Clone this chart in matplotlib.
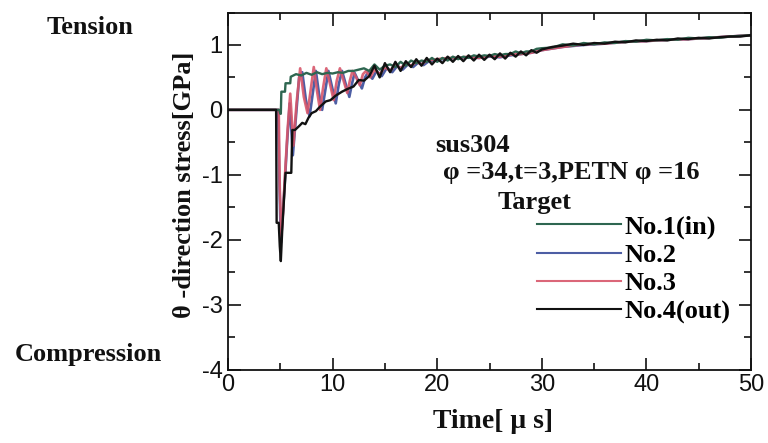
import matplotlib
matplotlib.use("Agg")
import matplotlib.pyplot as plt
from matplotlib import font_manager
from matplotlib.ticker import MultipleLocator

# ---------------- data ----------------
t1 = [0, 4.9, 5.0, 5.05, 5.1, 5.45, 5.5, 5.95, 6.0, 6.5, 7.0, 7.5, 8.0, 8.5, 9.0, 9.5, 10.0,
      10.5, 11.0, 11.5, 12.0, 12.5, 13.0, 13.5, 14.0, 14.5, 15.0, 15.5, 16.0, 16.5, 17.0,
      17.5, 18.0, 18.5, 19.0, 19.5, 20.0, 20.5, 21.0, 21.5, 22.0, 22.5, 23.0, 23.5, 24.0,
      24.5, 25.0, 25.5, 26.0, 26.5, 27.0, 27.5, 28.0, 28.5, 29.0, 29.5, 30.0, 31, 32, 33,
      34, 35, 36, 37, 38, 39, 40, 41, 42, 43, 44, 45, 46, 47, 48, 49, 50]
v1 = [0, 0, -0.06, -0.06, 0.28, 0.28, 0.41, 0.41, 0.51, 0.55, 0.53, 0.57, 0.54, 0.58, 0.55,
      0.57, 0.56, 0.58, 0.57, 0.6, 0.6, 0.62, 0.64, 0.6, 0.7, 0.62, 0.68, 0.7, 0.66, 0.74,
      0.68, 0.76, 0.72, 0.76, 0.74, 0.8, 0.74, 0.8, 0.76, 0.82, 0.78, 0.82, 0.8, 0.84, 0.82,
      0.84, 0.83, 0.86, 0.84, 0.86, 0.86, 0.9, 0.87, 0.9, 0.9, 0.94, 0.95, 0.96, 1.01, 0.99,
      1.03, 1.01, 1.04, 1.03, 1.06, 1.05, 1.08, 1.07, 1.09, 1.08, 1.11, 1.1, 1.12, 1.11,
      1.13, 1.14, 1.15]

t2 = [0, 4.8, 4.9, 5.05, 5.2, 5.4, 5.65, 5.9, 6.2, 6.5, 6.8, 7.1, 7.45, 7.8, 8.1, 8.4, 8.7,
      9.0, 9.3, 9.6, 9.95, 10.3, 10.6, 10.9, 11.25, 11.6, 11.85, 12.1, 12.45, 12.8, 13.1,
      13.4, 13.8, 14.2, 14.7, 15.2, 15.7, 16.2, 16.7, 17.2, 17.7, 18.2, 18.7, 19.2, 20, 21,
      22, 23, 24, 25, 26, 27, 28, 29, 30, 32, 34, 36, 38, 40, 42, 44, 46, 48, 50]
v2 = [0, 0, -1.0, -2.05, -1.7, -1.2, -0.5, 0.1, -0.7, -0.1, 0.5, 0.58, 0.15, -0.1, 0.25, 0.6,
      0.25, 0.0, 0.3, 0.6, 0.35, 0.1, 0.4, 0.6, 0.4, 0.2, 0.4, 0.57, 0.45, 0.33, 0.5, 0.58,
      0.48, 0.6, 0.52, 0.65, 0.58, 0.68, 0.62, 0.7, 0.66, 0.73, 0.69, 0.75, 0.77, 0.79, 0.8,
      0.81, 0.8, 0.82, 0.81, 0.84, 0.86, 0.88, 0.92, 0.97, 1.0, 1.02, 1.05, 1.06, 1.08, 1.09,
      1.11, 1.13, 1.15]

t3 = [0, 4.85, 4.95, 5.1, 5.25, 5.45, 5.7, 5.95, 6.25, 6.55, 6.9, 7.25, 7.6, 7.9, 8.2, 8.5,
      8.8, 9.1, 9.4, 9.75, 10.1, 10.4, 10.7, 11.05, 11.4, 11.65, 11.9, 12.25, 12.6, 12.9,
      13.2, 13.6, 14.0, 14.5, 15.0, 15.5, 16.0, 16.5, 17.0, 17.5, 18.0, 18.5, 19.0, 20, 21,
      22, 23, 24, 25, 26, 27, 28, 29, 30, 32, 34, 36, 38, 40, 42, 44, 46, 48, 50]
v3 = [0, 0, -1.2, -1.95, -1.6, -1.0, -0.3, 0.25, -0.55, 0.1, 0.64, 0.2, -0.05, 0.3, 0.66,
      0.3, 0.0, 0.35, 0.64, 0.4, 0.15, 0.45, 0.64, 0.45, 0.26, 0.45, 0.6, 0.5, 0.38, 0.55,
      0.6, 0.5, 0.62, 0.55, 0.66, 0.6, 0.7, 0.64, 0.72, 0.68, 0.74, 0.7, 0.76, 0.78, 0.8,
      0.8, 0.82, 0.8, 0.83, 0.82, 0.85, 0.86, 0.88, 0.92, 0.97, 1.01, 1.02, 1.05, 1.06, 1.08,
      1.09, 1.11, 1.13, 1.15]

t4 = [0, 4.6, 4.65, 4.85, 4.95, 5.05, 5.2, 5.5, 6.05, 6.15, 6.4, 6.8, 7.1, 7.4, 7.7, 8.0,
      8.4, 8.8, 9.35, 9.8, 10.3, 10.9, 11.4, 12.0, 12.5, 13.0, 13.5, 14.0, 14.5, 15.0, 15.5,
      16.0, 16.5, 17.0, 17.5, 18.0, 18.5, 19.0, 19.5, 20.0, 20.5, 21.0, 21.5, 22.0, 22.5,
      23.0, 23.5, 24.0, 24.5, 25.0, 25.5, 26.0, 26.5, 27.0, 27.5, 28.0, 28.5, 29.0, 29.5,
      30.0, 31, 32, 33, 34, 35, 36, 37, 38, 39, 40, 41, 42, 43, 44, 45, 46, 47, 48, 49, 50]
v4 = [0, 0, -1.74, -1.74, -2.1, -2.33, -1.8, -0.97, -0.97, -0.31, -0.31, -0.25, -0.2, -0.22,
      -0.12, -0.05, -0.02, 0.05, 0.13, 0.15, 0.22, 0.28, 0.32, 0.36, 0.46, 0.45, 0.52, 0.68,
      0.5, 0.72, 0.58, 0.74, 0.6, 0.75, 0.66, 0.78, 0.68, 0.8, 0.7, 0.79, 0.72, 0.82, 0.74,
      0.83, 0.75, 0.84, 0.76, 0.85, 0.77, 0.85, 0.78, 0.87, 0.79, 0.88, 0.82, 0.9, 0.84,
      0.92, 0.88, 0.93, 0.97, 0.99, 1.02, 1.0, 1.03, 1.02, 1.05, 1.04, 1.07, 1.06, 1.08,
      1.07, 1.1, 1.09, 1.11, 1.1, 1.12, 1.13, 1.13, 1.15]

labels = ["No.1(in)", "No.2", "No.3", "No.4(out)"]
colors = ["#2e6650", "#3a4c9a", "#d8566a", "#111111"]

x_ticks = [0, 10, 20, 30, 40, 50]
y_ticks = [-4, -3, -2, -1, 0, 1]

# ---------------- fonts ----------------
plt.rcParams["axes.unicode_minus"] = False
names = {f.name for f in font_manager.fontManager.ttflist}
if "Liberation Sans Narrow" in names:
    tick_family, tick_size = "Liberation Sans Narrow", 19
else:
    tick_family, tick_size = "Liberation Sans", 17
serif = ["Liberation Serif", "DejaVu Serif"]

fig = plt.figure(figsize=(7.68, 4.43), dpi=100)
ax = fig.add_axes([228 / 768, 1 - 369.5 / 443, (751 - 228) / 768, (369.5 - 12.5) / 443])

series = [(t2, v2), (t3, v3), (t1, v1), (t4, v4)]
order = [1, 2, 0, 3]
handles = {}
for (tt, vv), i in zip(series, order):
    lw = 1.7 if i in (0, 3) else 1.9
    (h,) = ax.plot(tt, vv, color=colors[i], lw=lw, label=labels[i],
                   alpha=0.9 if i in (1, 2) else 1.0)
    handles[i] = h

ax.set_xlim(0, 50)
ax.set_ylim(-4, 1.5)
ax.set_xticks(x_ticks)
ax.set_yticks(y_ticks)
ax.xaxis.set_minor_locator(MultipleLocator(5))
ax.yaxis.set_minor_locator(MultipleLocator(0.5))
ax.tick_params(which="both", direction="in", top=True, right=True, width=1.2, colors="#111111")
ax.tick_params(which="major", length=9, labelsize=tick_size)
ax.tick_params(which="minor", length=5)
ax.tick_params(axis="x", pad=3)
ax.tick_params(axis="y", pad=4)
for lab in ax.get_xticklabels() + ax.get_yticklabels():
    lab.set_family(tick_family)
for s in ax.spines.values():
    s.set_linewidth(1.3)
    s.set_color("#111111")

tkw = dict(family=serif, weight="bold", color="#111111")
fig.text(185 / 768, 1 - 185 / 443, "θ -direction stress[GPa]", rotation=90, ha="center",
         va="center", fontsize=19, **tkw)
fig.text(493 / 768, 1 - 422 / 443, "Time[ μ s]", ha="center", va="center", fontsize=20, **tkw)
fig.text(90 / 768, 1 - 27 / 443, "Tension", ha="center", va="center", fontsize=19, **tkw)
fig.text(88 / 768, 1 - 355 / 443, "Compression", ha="center", va="center", fontsize=19, **tkw)
fig.text(435 / 768, 1 - 145 / 443, "sus304", ha="left", va="center", fontsize=19, **tkw)
fig.text(443 / 768, 1 - 173 / 443, "φ =34,t=3,PETN φ =16", ha="left", va="center",
         fontsize=19, **tkw)
fig.text(498 / 768, 1 - 202 / 443, "Target", ha="left", va="center", fontsize=19, **tkw)

leg = fig.legend([handles[i] for i in range(4)], labels, loc="upper left",
                 bbox_to_anchor=(537 / 768, 1 - 215 / 443), frameon=False, borderpad=0,
                 borderaxespad=0, handlelength=3.2, handletextpad=0.1, labelspacing=0.18,
                 prop=dict(family=serif, weight="bold", size=19))
for line in leg.get_lines():
    line.set_linewidth(1.5)

fig.savefig("out.png", dpi=100)
